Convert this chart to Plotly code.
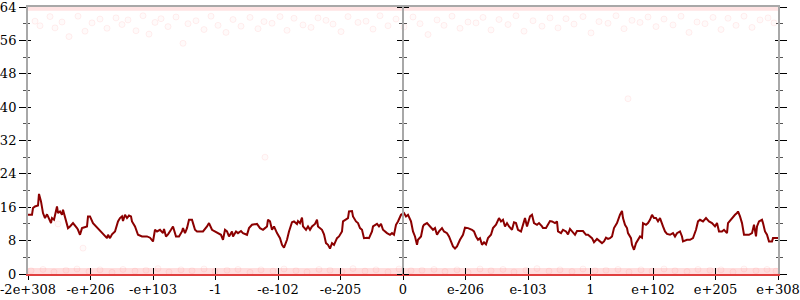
import plotly.graph_objects as go

# ---------------- data ----------------
tick_labels = ["-2e+308", "-e+206", "-e+103", "-1", "-e-102", "-e-205", "0",
               "e-206", "e-103", "1", "e+102", "e+205", "e+308"]
n_samples = 750

line_x = [
    0, 4, 5, 7, 10, 11, 13, 15, 17, 19, 20, 23, 24, 26, 29, 30, 32, 34, 35, 37,
    40, 42, 45, 49, 50, 52, 54, 55, 59, 60, 62, 65, 68, 70, 74, 76, 79, 80, 82, 84,
    87, 90, 92, 94, 95, 97, 99, 101, 103, 104, 107, 110, 114, 119, 122,
    125, 127, 129, 132, 135, 136, 138, 140, 143, 145, 148, 151, 154, 155, 157, 159, 161, 164, 165, 167,
    169, 172, 175, 179, 181, 184, 187, 190, 193, 195, 197, 199, 201, 204, 205, 208, 210, 213, 215, 219,
    221, 224, 227, 229, 232, 235, 237, 239, 240, 242, 244, 246, 249,
    252, 254, 256, 259, 261, 264, 266, 269, 270, 272, 274, 275, 278, 280, 282, 284, 287, 289, 290, 294,
    296, 298, 300, 302, 304, 306, 309, 311, 314, 315, 318, 320, 321, 324, 325, 328, 330, 332, 334, 336,
    339, 341, 344, 345, 349, 351, 353, 355, 359, 362, 364, 366, 368, 370, 373, 375,
    376, 378, 380, 383, 385, 387, 389, 390, 393, 395, 396, 399, 402, 405, 407, 409, 411, 414, 416, 419,
    421, 424, 425, 427, 429, 432, 435, 437, 440, 444, 446, 448, 450, 452, 454, 456, 458, 460, 463, 465,
    468, 471, 473, 475, 477, 479, 481, 484, 486, 488, 490, 493, 495, 497, 499,
    502, 504, 506, 509, 511, 514, 515, 518, 520, 522, 524, 527, 529, 530, 533, 535, 538, 540, 542, 544,
    547, 549, 552, 555, 558, 560, 564, 566, 569, 571, 574, 576, 578, 580, 582, 584, 586, 589, 590, 592,
    594, 595, 597, 599, 600, 603, 604, 606, 608, 610, 612, 614, 615, 618, 620, 622, 624, 626,
    628, 630, 632, 635, 637, 639, 642, 645, 647, 649, 652, 654, 655, 659, 662, 665, 668, 670, 672, 675,
    678, 681, 684, 687, 689, 691, 694, 696, 699, 700, 703, 705, 707, 709, 710, 712, 714, 716, 719, 721,
    724, 726, 728, 729, 731, 734, 735, 737, 739, 741, 744, 745, 749, 750,
]
line_y = [
    14.2, 14.2, 15.8, 16.2, 16.4, 19.2, 17.4, 14.6, 13.4, 14.3, 13.8, 12.2, 13.4, 13.0, 16.2, 14.6, 15.0, 14.2, 15.4, 13.8,
    11.0, 11.4, 12.2, 11.0, 10.6, 9.4, 11.0, 11.1, 11.4, 13.8, 13.8, 12.2, 11.4, 11.0, 9.8, 9.4, 8.6, 9.4, 8.6, 9.5,
    10.2, 12.6, 13.4, 13.8, 12.7, 14.2, 13.4, 14.0, 13.8, 12.6, 11.4, 9.4, 9.0, 9.0, 8.7,
    7.8, 10.6, 10.2, 10.6, 9.8, 10.8, 9.0, 9.5, 10.6, 11.4, 9.0, 9.0, 10.2, 11.0, 9.8, 11.0, 13.0, 13.0, 12.2, 10.6,
    10.2, 10.2, 10.2, 11.4, 12.2, 10.6, 10.2, 9.8, 9.4, 8.2, 10.6, 10.2, 9.0, 10.2, 9.0, 10.2, 9.8, 10.3, 9.8, 9.4,
    11.0, 11.8, 12.0, 12.0, 11.0, 10.6, 11.0, 11.4, 13.0, 12.6, 10.6, 11.4, 9.8,
    8.6, 7.0, 6.3, 8.2, 10.2, 12.4, 12.6, 12.0, 12.7, 12.2, 13.5, 11.4, 10.6, 11.4, 10.6, 11.4, 12.0, 13.0, 11.4, 10.6,
    9.5, 7.4, 7.0, 6.1, 7.4, 7.0, 8.6, 9.0, 10.2, 12.6, 13.0, 13.4, 15.0, 15.1, 13.8, 12.6, 12.2, 11.0, 10.6, 8.6,
    8.7, 8.6, 10.2, 11.4, 12.0, 11.4, 12.0, 10.6, 9.8, 9.4, 9.8, 9.4, 11.8, 12.6, 14.2, 14.6,
    14.6, 13.8, 14.2, 12.6, 10.2, 9.0, 7.0, 8.2, 9.0, 11.4, 11.8, 12.2, 11.4, 10.6, 11.0, 9.4, 10.2, 11.0, 10.2, 9.8,
    9.0, 7.4, 6.6, 6.1, 6.6, 8.2, 9.4, 11.1, 11.0, 10.6, 10.2, 9.0, 8.2, 8.6, 7.0, 7.6, 7.1, 8.6, 9.4, 11.0,
    11.8, 13.4, 12.6, 13.0, 11.4, 12.2, 11.4, 10.6, 12.4, 12.2, 10.6, 10.2, 11.8, 13.4, 11.4,
    13.8, 14.2, 12.2, 11.8, 12.2, 11.4, 11.0, 11.0, 12.0, 12.7, 12.6, 12.2, 12.6, 10.2, 9.8, 10.6, 10.2, 9.5, 10.8, 10.2,
    9.4, 10.3, 10.3, 10.3, 9.4, 9.4, 8.6, 7.6, 8.4, 7.9, 7.4, 7.8, 8.7, 8.4, 8.6, 9.0, 11.0, 12.2, 13.0, 14.2,
    15.1, 13.4, 11.8, 11.0, 9.8, 8.6, 7.0, 5.8, 7.4, 8.2, 9.0, 8.7, 12.2, 11.8, 12.2, 13.0, 14.2, 13.4,
    13.4, 12.6, 13.4, 11.4, 10.2, 9.6, 9.4, 9.8, 9.0, 9.8, 10.2, 9.0, 7.8, 8.2, 8.2, 8.6, 10.6, 12.6, 13.0, 12.6,
    13.4, 12.6, 12.2, 11.4, 12.2, 10.2, 10.2, 10.6, 9.8, 12.2, 13.1, 13.8, 14.2, 14.6, 15.0, 13.8, 12.2, 9.4, 9.4, 9.4,
    9.8, 11.8, 9.0, 11.4, 12.6, 13.0, 12.2, 10.2, 9.4, 7.8, 7.8, 8.6, 8.6, 8.6,
]

top_x = [7, 12, 22, 27, 34, 41, 50, 57, 64, 72,
         79, 88, 94, 100, 108, 115, 121, 127, 133, 140,
         148, 155, 160, 168, 176, 183, 190, 198, 205, 213,
         222, 230, 236, 244, 252, 259, 266, 275, 283, 290,
         298, 305, 313, 320, 330, 338, 345, 352, 360, 368,
         376, 385, 392, 400, 409, 416, 424, 432, 440, 448,
         455, 463, 471, 480, 488, 496, 505, 514, 522, 530,
         538, 546, 555, 563, 571, 580, 588, 596, 604, 612,
         620, 628, 636, 645, 653, 661, 669, 677, 685, 693,
         700, 708, 716, 724, 732, 740, 746]
top_y = [60.6, 59.5, 61.7, 59.0, 60.4, 56.9, 61.8, 58.2, 60.2, 61.1,
         58.9, 61.4, 59.8, 60.9, 58.3, 61.9, 57.5, 60.3, 61.2, 59.3,
         61.6, 55.3, 60.0, 60.7, 58.6, 61.8, 59.6, 57.9, 61.0, 59.4,
         61.5, 58.8, 60.5, 60.1, 61.7, 58.4, 61.3, 59.7, 59.1, 61.4,
         60.8, 59.9, 58.1, 61.7, 60.3, 60.6, 58.7, 61.9, 59.5, 61.1,
         59.2, 61.6, 60.0, 57.4, 60.9, 59.6, 61.8, 58.9, 60.4, 60.2,
         61.5, 58.5, 61.0, 59.8, 61.9, 58.2, 60.7, 59.4, 61.4, 59.0,
         61.2, 59.9, 61.7, 57.8, 60.5, 60.1, 61.9, 58.8, 60.8, 60.3,
         61.6, 59.3, 61.1, 59.7, 61.8, 57.9, 60.4, 60.0, 61.5, 58.6,
         61.3, 59.6, 61.8, 59.1, 60.9, 61.4, 60.2]

bot_x = [3, 15, 26, 38, 49, 61, 72, 84, 95, 107,
         118, 130, 141, 153, 164, 176, 187, 199, 210, 222,
         233, 245, 256, 268, 279, 291, 302, 314, 325, 337,
         348, 360, 371, 383, 394, 406, 417, 429, 440, 452,
         463, 475, 486, 498, 509, 521, 532, 544, 555, 567,
         578, 590, 601, 613, 624, 636, 647, 659, 670, 682,
         693, 705, 716, 728, 739, 748]
bot_y = [0.8, 1.1, 0.5, 0.9, 1.2, 0.6, 1.0, 0.4, 1.1, 0.7,
         0.9, 1.3, 0.5, 1.0, 0.8, 1.2, 0.6, 0.9, 1.1, 0.4,
         1.0, 0.7, 1.2, 0.8, 0.5, 1.1, 0.9, 0.6, 1.3, 0.7,
         1.0, 0.5, 1.2, 0.8, 0.9, 1.1, 0.6, 1.0, 0.4, 1.2,
         0.8, 1.1, 0.5, 0.9, 1.3, 0.7, 1.0, 0.6, 1.2, 0.8,
         0.9, 1.1, 0.5, 1.0, 0.7, 1.2, 0.8, 0.6, 1.1, 0.9,
         1.0, 0.5, 1.2, 0.8, 1.1, 0.7]

stray_x = [55, 30, 237, 600]
stray_y = [6.2, 12.0, 28.0, 42.0]

band_x = [0, n_samples]
band_low = [0.6, 0.6]
band_high = [63.6, 63.6]

y_ticks = [0, 8, 16, 24, 32, 40, 48, 56, 64]

# ---------------- figure ----------------
tick_pos = [i * n_samples / 12 for i in range(13)]
FONT = dict(family="DejaVu Serif", size=13, color="#000000")
AXIS_GRAY = "#a8a8a8"
faint_marker = dict(size=6, color="rgba(255,40,40,0.025)",
                    line=dict(color="rgba(255,40,40,0.07)", width=1))

fig = go.Figure()
fig.add_trace(go.Scatter(x=band_x, y=band_low, mode="lines",
                         line=dict(color="rgba(255,60,60,0.17)", width=7),
                         hoverinfo="skip"))
fig.add_trace(go.Scatter(x=band_x, y=band_high, mode="lines",
                         line=dict(color="rgba(255,60,60,0.14)", width=4),
                         hoverinfo="skip"))
fig.add_trace(go.Scatter(x=top_x, y=top_y, mode="markers", marker=faint_marker,
                         cliponaxis=False))
fig.add_trace(go.Scatter(x=bot_x, y=bot_y, mode="markers", marker=faint_marker,
                         cliponaxis=False))
fig.add_trace(go.Scatter(x=stray_x, y=stray_y, mode="markers", marker=faint_marker))
fig.add_trace(go.Scatter(x=line_x, y=line_y, mode="lines",
                         line=dict(color="#8b0000", width=2)))
# empty traces so the helper axes are instantiated
fig.add_trace(go.Scatter(x=[], y=[], xaxis="x2", yaxis="y2"))
fig.add_trace(go.Scatter(x=[], y=[], xaxis="x3", yaxis="y3"))
fig.add_trace(go.Scatter(x=[], y=[], xaxis="x", yaxis="y4"))

common_x = dict(range=[0, n_samples], tickvals=tick_pos, showgrid=False,
                zeroline=False, tickcolor="#000000", tickwidth=1)
common_y = dict(range=[0, 64], tickmode="array", tickvals=y_ticks,
                showgrid=False, zeroline=False,
                tickcolor="#000000", tickwidth=1)

fig.update_layout(
    width=800, height=300,
    margin=dict(l=28, r=22, t=7, b=26, autoexpand=False),
    paper_bgcolor="white", plot_bgcolor="white",
    showlegend=False,
    font=FONT,
    xaxis=dict(**common_x, domain=[0, 1], anchor="y", ticktext=tick_labels,
               ticks="outside", ticklen=4, showline=True, ticklabelstandoff=-2,
               ticklabeloverflow="allow",
               linecolor="#e04040", linewidth=2, tickfont=FONT),
    xaxis2=dict(**common_x, overlaying="x", anchor="y", side="bottom",
                ticks="inside", ticklen=6, showticklabels=False, showline=False),
    xaxis3=dict(**common_x, overlaying="x", anchor="y", side="top",
                ticks="", showticklabels=False, showline=True,
                linecolor=AXIS_GRAY, linewidth=2),
    yaxis=dict(**common_y, domain=[0, 1], anchor="x", ticks="outside", ticklen=7,
               showline=True, linecolor=AXIS_GRAY, linewidth=2, mirror="allticks",
               tickfont=FONT, ticklabeloverflow="allow",
               minor=dict(dtick=4, ticks="outside", ticklen=3, tickcolor="#555555")),
    yaxis2=dict(**common_y, overlaying="y", anchor="x", side="left",
                ticks="inside", ticklen=3, mirror="allticks", showticklabels=False,
                showline=False,
                minor=dict(dtick=4, ticks="inside", ticklen=2, tickcolor="#555555")),
    yaxis3=dict(**common_y, overlaying="y", anchor="free", position=0.5, side="left",
                ticks="outside", ticklen=5, showticklabels=False, showline=True,
                linecolor=AXIS_GRAY, linewidth=2,
                minor=dict(dtick=4, ticks="outside", ticklen=3, tickcolor="#555555")),
    yaxis4=dict(**common_y, overlaying="y", anchor="free", position=0.5, side="right",
                ticks="outside", ticklen=5, showticklabels=False, showline=False,
                minor=dict(dtick=4, ticks="outside", ticklen=3, tickcolor="#555555")),
)

fig.write_html("out.html")
